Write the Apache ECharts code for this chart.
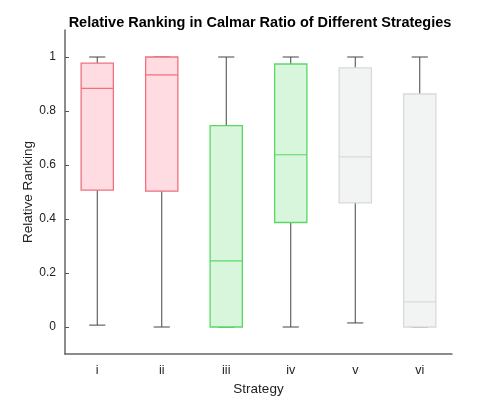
<!DOCTYPE html>
<html>
<head>
<meta charset="utf-8">
<script src="https://cdn.jsdelivr.net/npm/echarts@6/dist/echarts.min.js"></script>
<style>
  html, body { margin: 0; padding: 0; background: #fff; }
  #chart { width: 499px; height: 399px; }
</style>
</head>
<body>
<div id="chart"></div>
<script>
const strategies = ['i', 'ii', 'iii', 'iv', 'v', 'vi']
const lowerWhisker = [0.007, 0.0, 0.0, 0.0, 0.015, 0.0]
const q1 = [0.507, 0.503, 0.0, 0.387, 0.460, 0.0]
const median = [0.884, 0.934, 0.245, 0.638, 0.630, 0.093]
const q3 = [0.977, 1.0, 0.746, 0.974, 0.960, 0.863]
const upperWhisker = [1.0, 1.0, 1.0, 1.0, 1.0, 1.0]
const yTicks = [0, 0.2, 0.4, 0.6, 0.8, 1]

// fill / edge per group
const palette = {
  red: { fill: '#ffdce2', edge: '#f0707f' },
  green: { fill: '#d8f6dc', edge: '#5ad865' },
  gray: { fill: '#f2f4f4', edge: '#d9d9d9' }
}
const groups = ['red', 'red', 'green', 'green', 'gray', 'gray']

const boxData = strategies.map((s, i) => [i, lowerWhisker[i], q1[i], median[i], q3[i], upperWhisker[i]])

const renderBox = (params, api) => {
  const idx = api.value(0)
  const band = api.size([1, 0])[0]
  const half = band * 0.25
  const capHalf = band * 0.125
  const pLow = api.coord([idx, api.value(1)])
  const pQ1 = api.coord([idx, api.value(2)])
  const pMed = api.coord([idx, api.value(3)])
  const pQ3 = api.coord([idx, api.value(4)])
  const pHigh = api.coord([idx, api.value(5)])
  const cx = pLow[0]
  const c = palette[groups[idx]]
  const whisker = { stroke: '#444', lineWidth: 1 }
  return {
    type: 'group',
    children: [
      { type: 'line', shape: { x1: cx, y1: pHigh[1], x2: cx, y2: pQ3[1] }, style: whisker },
      { type: 'line', shape: { x1: cx, y1: pQ1[1], x2: cx, y2: pLow[1] }, style: whisker },
      { type: 'line', shape: { x1: cx - capHalf, y1: pHigh[1], x2: cx + capHalf, y2: pHigh[1] }, style: whisker },
      { type: 'line', shape: { x1: cx - capHalf, y1: pLow[1], x2: cx + capHalf, y2: pLow[1] }, style: whisker },
      {
        type: 'rect',
        shape: { x: cx - half, y: pQ3[1], width: half * 2, height: pQ1[1] - pQ3[1] },
        style: { fill: c.fill, stroke: c.edge, lineWidth: 1.3 }
      },
      { type: 'line', shape: { x1: cx - half, y1: pMed[1], x2: cx + half, y2: pMed[1] }, style: { stroke: c.edge, lineWidth: 1.2 } }
    ]
  }
}

const chart = echarts.init(document.getElementById('chart'))

chart.setOption({
  animation: false,
  title: {
    text: 'Relative Ranking in Calmar Ratio of Different Strategies',
    left: 255, top: 10, textAlign: 'center',
    textStyle: { fontFamily: 'Liberation Sans', fontSize: 14.5, fontWeight: 'bold', color: '#000' }
  },
  grid: { left: 65, right: 47, top: 30, bottom: 45, outerBoundsMode: 'none' },
  xAxis: {
    type: 'category',
    data: strategies,
    name: 'Strategy',
    nameLocation: 'middle',
    nameGap: 28,
    nameMoveOverlap: false,
    nameTextStyle: { fontFamily: 'Liberation Sans', fontSize: 13.5, color: '#222' },
    axisLine: { onZero: false, lineStyle: { color: '#666', width: 1.5 } },
    axisTick: { alignWithLabel: true, inside: true, length: 4, lineStyle: { color: '#555' } },
    axisLabel: { fontFamily: 'Liberation Sans', fontSize: 12.5, color: '#222', margin: 10 },
    splitLine: { show: false }
  },
  yAxis: {
    type: 'value',
    min: -0.1,
    max: 1.1,
    name: 'Relative Ranking',
    nameLocation: 'middle',
    nameGap: 30,
    nameMoveOverlap: false,
    nameTextStyle: { fontFamily: 'Liberation Sans', fontSize: 13.5, color: '#222' },
    axisLine: { show: true, lineStyle: { color: '#666', width: 1.5 } },
    axisTick: { show: true, inside: true, length: 4, customValues: yTicks, lineStyle: { color: '#555' } },
    axisLabel: {
      fontFamily: 'Liberation Sans', fontSize: 12, color: '#222', margin: 9,
      customValues: yTicks,
      formatter: v => String(Math.round(v * 10) / 10)
    },
    splitLine: { show: false }
  },
  series: [{
    type: 'custom',
    renderItem: renderBox,
    encode: { x: 0, y: [1, 2, 3, 4, 5] },
    data: boxData
  }]
})
</script>
</body>
</html>
